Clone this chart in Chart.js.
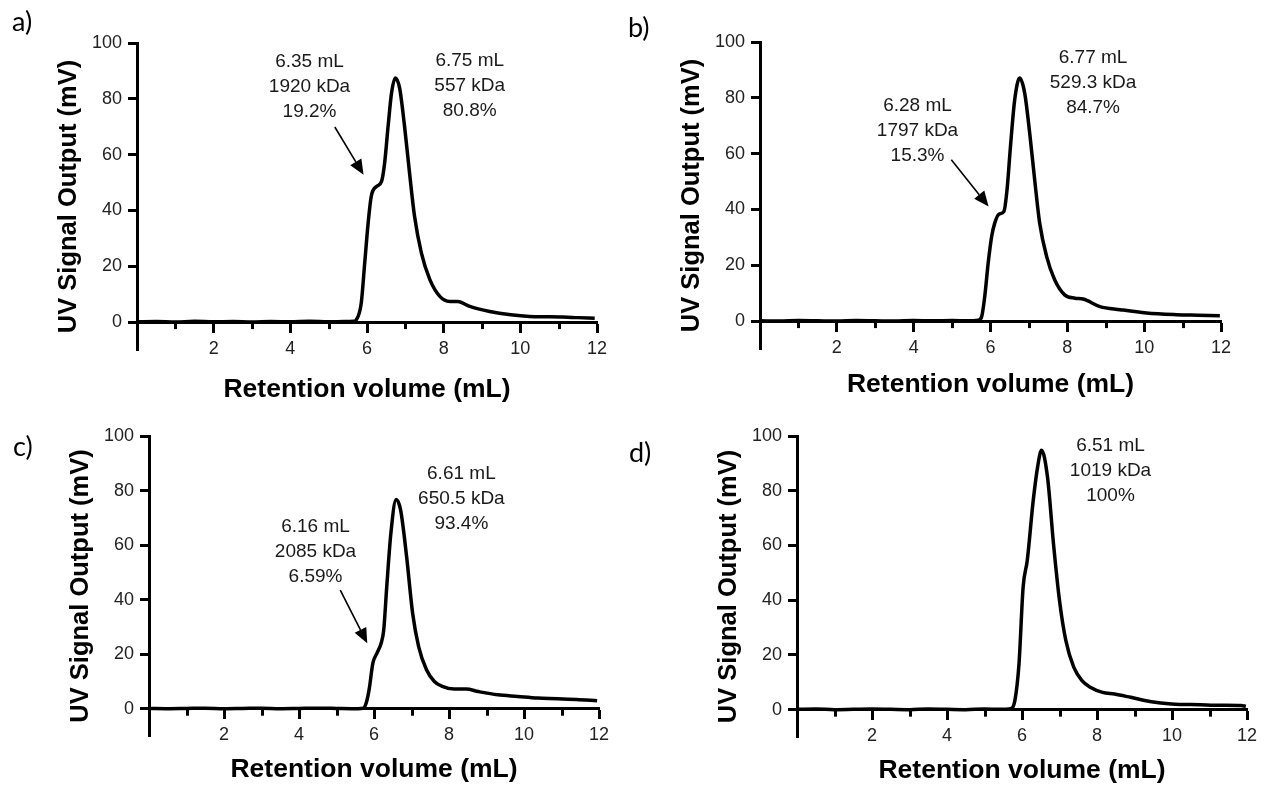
<!DOCTYPE html>
<html>
<head>
<meta charset="utf-8">
<script src="https://cdn.jsdelivr.net/npm/chart.js@4.4.0/dist/chart.umd.min.js"></script>
<style>
  body { margin: 0; background: #fff; width: 1266px; height: 789px; position: relative; overflow: hidden; }
  canvas { position: absolute; }
  .tag { position: absolute; font-family: Lato, "Open Sans", sans-serif; font-size: 27px; line-height: 27px; color: #000; }
</style>
</head>
<body>
<canvas id="chartA" width="633" height="410" style="left:0;top:0"></canvas>
<canvas id="chartB" width="633" height="410" style="left:633px;top:0"></canvas>
<canvas id="chartC" width="633" height="395" style="left:0;top:394px"></canvas>
<canvas id="chartD" width="633" height="395" style="left:633px;top:394px"></canvas>
<div class="tag" style="left:12px;top:7px">a)</div>
<div class="tag" style="left:628px;top:13px">b)</div>
<div class="tag" style="left:13px;top:432px">c)</div>
<div class="tag" style="left:629px;top:438px">d)</div>
<script>
// axis ticks shared by all four panels
const xTicks = [2, 4, 6, 8, 10, 12];
const xMinor = [1, 3, 5, 7, 9, 11];
const yTicks = [0, 20, 40, 60, 80, 100];

// a) retention volume (mL) / UV signal (mV)
const aX = [0, 0.5, 1, 1.5, 2, 2.5, 3, 3.5, 4, 4.5, 5, 5.4, 5.65, 5.72, 5.85, 5.94, 6.03, 6.11, 6.25, 6.38, 6.46, 6.55, 6.64, 6.74, 6.85, 6.98, 7.11, 7.24, 7.42, 7.64, 7.9, 8.16, 8.37, 8.68, 9.2, 9.75, 10.24, 10.7, 11.11, 11.5, 11.94];
const aY = [0.1, 0.2, 0, 0.3, 0.1, 0.2, 0, 0.2, 0.1, 0.3, 0.1, 0.2, 0.3, 0.8, 6.8, 21.1, 35.5, 45, 48.6, 50.4, 57, 70.1, 82.1, 87.5, 83.9, 70.1, 53.4, 37.9, 24.7, 15.2, 9.2, 7.4, 7.4, 5.6, 3.8, 2.6, 2.0, 1.9, 1.8, 1.6, 1.4];
const aNoteLeft = ['6.35 mL', '1920 kDa', '19.2%'];
const aNoteRight = ['6.75 mL', '557 kDa', '80.8%'];

// b)
const bX = [0, 0.5, 1, 1.5, 2, 2.5, 3, 3.5, 4, 4.5, 5, 5.4, 5.68, 5.77, 5.85, 5.94, 6.03, 6.11, 6.22, 6.35, 6.43, 6.52, 6.63, 6.76, 6.89, 7.02, 7.15, 7.28, 7.46, 7.67, 7.93, 8.2, 8.41, 8.85, 9.37, 10.06, 10.84, 11.4, 11.97];
const bY = [0.1, 0, 0.2, 0.1, 0, 0.2, 0.1, 0, 0.2, 0.1, 0.2, 0.1, 0.3, 1.6, 8.8, 20.8, 30.3, 35.1, 38.3, 39.3, 47, 62.6, 79.3, 87.1, 81.7, 67.4, 50.6, 35.1, 23.2, 14.8, 9.4, 8.2, 7.9, 5.2, 4.1, 2.9, 2.3, 2.1, 1.9];
const bNoteLeft = ['6.28 mL', '1797 kDa', '15.3%'];
const bNoteRight = ['6.77 mL', '529.3 kDa', '84.7%'];

// c)
const cX = [0, 0.5, 1, 1.5, 2, 2.5, 3, 3.5, 4, 4.5, 5, 5.4, 5.71, 5.79, 5.87, 5.97, 6.08, 6.19, 6.26, 6.34, 6.45, 6.59, 6.71, 6.87, 7.03, 7.19, 7.4, 7.61, 7.82, 8.14, 8.46, 8.78, 9.3, 9.83, 10.36, 10.89, 11.4, 11.95];
const cY = [0.1, 0, 0.1, 0.2, 0, 0.1, 0.2, 0, 0.1, 0.2, 0.1, 0, 0.2, 2, 7, 16.7, 20.4, 24, 28.9, 44.8, 64.3, 76.7, 72.8, 55.7, 35, 22.8, 14.3, 10, 8.2, 7.2, 7.2, 6.3, 5.1, 4.5, 3.9, 3.7, 3.4, 2.9];
const cNoteLeft = ['6.16 mL', '2085 kDa', '6.59%'];
const cNoteRight = ['6.61 mL', '650.5 kDa', '93.4%'];

// d)
const dX = [0, 0.5, 1, 1.5, 2, 2.5, 3, 3.5, 4, 4.5, 5, 5.4, 5.7, 5.81, 5.92, 6.03, 6.14, 6.3, 6.42, 6.52, 6.68, 6.84, 7.0, 7.17, 7.38, 7.6, 7.82, 8.15, 8.47, 8.9, 9.45, 9.99, 10.75, 11.3, 11.84, 11.97];
const dY = [0.1, 0.2, 0, 0.1, 0.2, 0.1, 0, 0.2, 0.1, 0, 0.2, 0.1, 0.3, 3.3, 16.7, 44.8, 54.5, 76.5, 89, 94.8, 85, 60.6, 39.9, 25.2, 15.5, 10.6, 8.2, 6.3, 5.7, 4.5, 2.9, 2.1, 1.8, 1.6, 1.5, 1.2];
const dNoteRight = ['6.51 mL', '1019 kDa', '100%'];

const family = '"Liberation Sans", Arial, sans-serif';

// minor x ticks, peak labels and arrows
const extras = {
  id: 'extras',
  afterDraw(chart, args, opts) {
    const { ctx } = chart;
    const x = chart.scales.x, y = chart.scales.y;
    const y0 = y.getPixelForValue(0);
    ctx.save();
    ctx.strokeStyle = '#000';
    ctx.lineWidth = 3;
    xMinor.forEach(v => {
      const px = Math.round(x.getPixelForValue(v)) + 0.5;
      ctx.beginPath();
      ctx.moveTo(px, y0);
      ctx.lineTo(px, y0 + 7);
      ctx.stroke();
    });

    ctx.font = '19px ' + family;
    ctx.fillStyle = '#1a1a1a';
    ctx.textAlign = 'center';
    ctx.textBaseline = 'middle';
    opts.notes.forEach(n => {
      n.lines.forEach((t, i) => {
        ctx.fillText(t, x.getPixelForValue(n.x), y.getPixelForValue(n.y) + i * 25);
      });
    });

    opts.arrows.forEach(a => {
      const x1 = x.getPixelForValue(a.from[0]), y1 = y.getPixelForValue(a.from[1]);
      const x2 = x.getPixelForValue(a.to[0]), y2 = y.getPixelForValue(a.to[1]);
      const ang = Math.atan2(y2 - y1, x2 - x1);
      const head = 15, half = 6.5;
      const bx = x2 - head * Math.cos(ang), by = y2 - head * Math.sin(ang);
      ctx.lineWidth = 1.6;
      ctx.beginPath();
      ctx.moveTo(x1, y1);
      ctx.lineTo(bx, by);
      ctx.stroke();
      ctx.fillStyle = '#000';
      ctx.beginPath();
      ctx.moveTo(x2, y2);
      ctx.lineTo(bx + half * Math.sin(ang), by - half * Math.cos(ang));
      ctx.lineTo(bx - half * Math.sin(ang), by + half * Math.cos(ang));
      ctx.closePath();
      ctx.fill();
    });
    ctx.restore();
  }
};

function makePanel(id, xs, ys, pad, titleGap, notes, arrows) {
  const points = xs.map((v, i) => ({ x: v, y: ys[i] }));
  return new Chart(document.getElementById(id), {
    type: 'line',
    data: {
      datasets: [{
        data: points,
        borderColor: '#000',
        borderWidth: 3.5,
        pointRadius: 0,
        cubicInterpolationMode: 'monotone',
        fill: false
      }]
    },
    options: {
      responsive: false,
      animation: false,
      layout: { padding: pad },
      plugins: {
        legend: { display: false },
        tooltip: { enabled: false },
        extras: { notes: notes, arrows: arrows }
      },
      scales: {
        x: {
          type: 'linear',
          min: 0,
          max: 12,
          position: { y: 0 },
          afterBuildTicks: s => { s.ticks = xTicks.map(v => ({ value: v })); },
          ticks: { font: { family: family, size: 18 }, color: '#222', padding: 7, maxRotation: 0, autoSkip: false },
          grid: { drawOnChartArea: false, tickLength: 9, tickWidth: 3, tickColor: '#000' },
          border: { display: true, color: '#000', width: 3 },
          title: {
            display: true,
            text: 'Retention volume (mL)',
            color: '#000',
            font: { family: family, size: 26.5, weight: 'bold' },
            padding: { top: titleGap, bottom: 0 }
          }
        },
        y: {
          type: 'linear',
          min: -10,
          max: 100,
          afterBuildTicks: s => { s.ticks = yTicks.map(v => ({ value: v })); },
          afterFit: s => { s.width = 100; },
          ticks: { font: { family: family, size: 18 }, color: '#222', padding: 6 },
          grid: { drawOnChartArea: false, tickLength: 9, tickWidth: 3, tickColor: '#000' },
          border: { display: true, color: '#000', width: 3 },
          title: {
            display: true,
            text: 'UV Signal Output (mV)',
            color: '#000',
            font: { family: family, size: 25.5, weight: 'bold' },
            padding: { top: 17, bottom: 0 }
          }
        }
      }
    },
    plugins: [extras]
  });
}

makePanel('chartA', aX, aY, { left: 37, top: 43, right: 36, bottom: 60 }, 7,
  [{ x: 4.5, y: 93.4, lines: aNoteLeft }, { x: 8.68, y: 93.8, lines: aNoteRight }],
  [{ from: [5.16, 69.9], to: [5.91, 52.8] }]);

makePanel('chartB', bX, bY, { left: 27, top: 42, right: 45, bottom: 61 }, 3,
  [{ x: 4.1, y: 77.2, lines: bNoteLeft }, { x: 8.67, y: 94.3, lines: bNoteRight }],
  [{ from: [4.98, 57.8], to: [5.95, 41.1] }]);

makePanel('chartC', cX, cY, { left: 49, top: 42, right: 34, bottom: 53 }, 0,
  [{ x: 4.44, y: 66.7, lines: cNoteLeft }, { x: 8.33, y: 86.2, lines: cNoteRight }],
  [{ from: [5.1, 43.5], to: [5.82, 24] }]);

makePanel('chartD', dX, dY, { left: 64, top: 42, right: 19, bottom: 52 }, 1,
  [{ x: 8.36, y: 96.6, lines: dNoteRight }],
  []);
</script>
</body>
</html>
